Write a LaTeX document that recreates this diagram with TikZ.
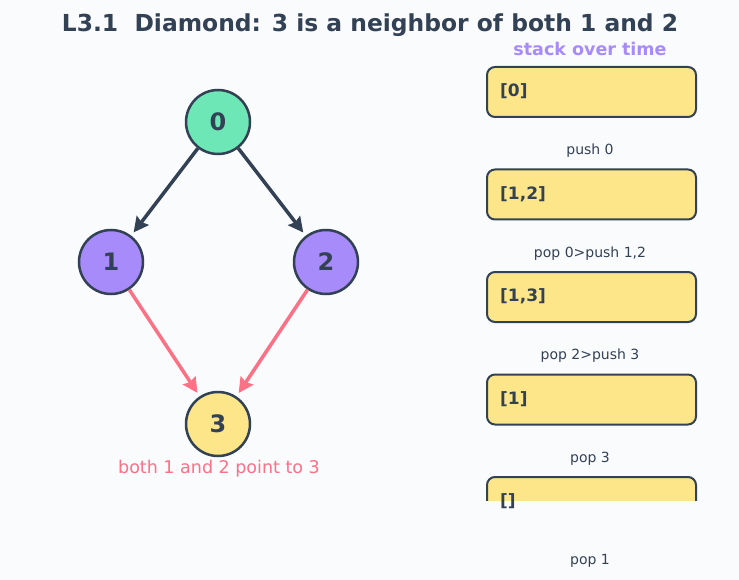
\documentclass[tikz,border=0pt]{standalone}
\usepackage{fontspec}
\setmainfont{DejaVu Sans}
\usetikzlibrary{arrows.meta}
\definecolor{bg}{HTML}{FAFBFD}
\definecolor{ink}{HTML}{334155}
\definecolor{mint}{HTML}{6EE7B7}
\definecolor{violet}{HTML}{A78BFA}
\definecolor{sun}{HTML}{FDE68A}
\definecolor{rose}{HTML}{FB7185}
\tikzset{
  gnode/.style={circle, draw=ink, line width=2.5pt, minimum size=64pt, inner sep=0pt,
    text=ink, font=\fontsize{24}{26}\selectfont\bfseries},
  darkedge/.style={draw=ink, line width=3.5pt, -{Stealth[length=15pt,width=15pt,inset=2pt]}, shorten >=4pt},
  redge/.style={draw=rose, line width=3.5pt, -{Stealth[length=15pt,width=15pt,inset=2pt]}, shorten >=4pt},
  stackbox/.style={draw=ink, fill=sun, line width=2pt, rounded corners=8pt,
    minimum width=209pt, minimum height=50pt, inner sep=0pt, anchor=north west},
  stacktext/.style={anchor=west, text=ink, font=\fontsize{17}{19}\selectfont\bfseries, inner sep=0pt},
  steplabel/.style={text=ink, font=\fontsize{14}{16}\selectfont, inner sep=0pt}
}
\begin{document}
\begin{tikzpicture}[x=1pt,y=-1pt]
\fill[bg] (0,0) rectangle (739,580);
\useasboundingbox (0,0) rectangle (739,580);

\node[text=ink, font=\fontsize{23.4}{26}\selectfont\bfseries] (title) at (370,25) {L3.1\ \ Diamond: 3 is a neighbor of both 1 and 2};
\node[text=violet, font=\fontsize{17.5}{19}\selectfont\bfseries] (stitle) at (590,49) {stack over time};

\node[gnode, fill=mint] (n0) at (218,122) {0};
\node[gnode, fill=violet] (n1) at (111,262) {1};
\node[gnode, fill=violet] (n2) at (326,262) {2};
\node[gnode, fill=sun] (n3) at (218,424) {3};

\draw[darkedge] (n0) -- (n1);
\draw[darkedge] (n0) -- (n2);
\draw[redge] (n1) -- (n3);
\draw[redge] (n2) -- (n3);

\node[text=rose, font=\fontsize{17.5}{19}\selectfont] (note) at (219,468.5) {both 1 and 2 point to 3};

\node[stackbox] (b0) at (486,66) {};
\node[stacktext] (t0) at (500,91.5) {[0]};
\node[steplabel] (l0) at (590,151) {push 0};

\node[stackbox] (b1) at (486,168.5) {};
\node[stacktext] (t1) at (500,194) {[1,2]};
\node[steplabel] (l1) at (590,253.5) {pop 0>push 1,2};

\node[stackbox] (b2) at (486,271) {};
\node[stacktext] (t2) at (500,296.5) {[1,3]};
\node[steplabel] (l2) at (590,356) {pop 2>push 3};

\node[stackbox] (b3) at (486,373.5) {};
\node[stacktext] (t3) at (500,399) {[1]};
\node[steplabel] (l3) at (590,458.5) {pop 3};

\begin{scope}
\clip (470,460) rectangle (710,500);
\node[stackbox] (b4) at (486,476) {};
\end{scope}
\node[stacktext] (t4) at (500,501.5) {[]};
\node[steplabel] (l4) at (590,561) {pop 1};
\end{tikzpicture}
\end{document}
